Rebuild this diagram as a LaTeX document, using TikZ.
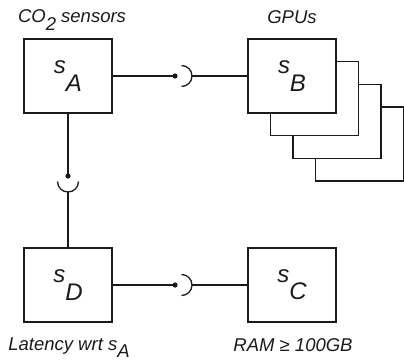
\documentclass[tikz,border=0pt]{standalone}
\usepackage{fontspec}
\setmainfont{Liberation Sans}
\usepackage{tikz}
\usetikzlibrary{positioning, calc}
\definecolor{wireink}{HTML}{1A1A1A}
\newcommand{\subdrop}[2][0.42em]{\raisebox{-#1}{#2}}
\newcommand{\ballsocket}[3]{%
  % #1 ball, #2 socket vertex, #3 direction of the vertex
  \fill[wireink] (#1) circle[radius=2.6pt];
  \draw[wire] (#2) arc[start angle=#3, end angle=#3+90, radius=10.5pt]
              (#2) arc[start angle=#3, end angle=#3-90, radius=10.5pt];
}
\tikzset{
  sitebox/.style={draw=wireink, line width=1.3pt, fill=white, inner sep=0pt,
    minimum width=88pt, minimum height=74pt,
    font=\fontsize{24}{24}\selectfont\itshape, text=wireink},
  caption/.style={font=\fontsize{18.5}{20}\selectfont\itshape, text=wireink, inner sep=0pt},
  wire/.style={draw=wireink, line width=1.3pt},
}

\begin{document}
\begin{tikzpicture}[x=1pt, y=-1pt]
  \useasboundingbox (0,0) rectangle (404,360);

  % ===== GPU stack behind s_B =====
  \foreach \k in {3,2,1}{
    \node[sitebox] (gpu\k) at ({292+\k*22.5},{76+\k*22.7}) {};
  }

  % ===== sites =====
  \node[sitebox] (sA) at (68,76) {\raisebox{-2pt}{s\subdrop[0.72em]{A}}};
  \node[sitebox] (sB) at (292,76) {\raisebox{-2pt}{s\subdrop[0.72em]{B}}};
  \node[sitebox] (sD) at (68,285) {\raisebox{-2pt}{s\subdrop[0.72em]{D}}};
  \node[sitebox] (sC) at (292,285) {\raisebox{-2pt}{s\subdrop[0.72em]{C}}};

  % ===== captions =====
  \node[caption, anchor=base] (capA) at (72,22.5) {CO\subdrop{2} sensors};
  \node[caption, anchor=base] (capB) at (292,23) {GPUs};
  \node[caption, anchor=base] (capD) at (69,350) {Latency wrt s\subdrop[0.38em]{A}};
  \node[caption, anchor=base] (capC) at (293,351) {RAM ≥ 100GB};

  % ===== ball and socket joints =====
  \coordinate (abBall) at (175,76);
  \coordinate (abSock) at (192,76);
  \coordinate (adBall) at (68,176);
  \coordinate (adSock) at (68,192);
  \coordinate (dcBall) at (175,285);
  \coordinate (dcSock) at (192,285);

  \draw[wire] (sA) -- (abBall);
  \draw[wire] (abSock) -- (sB);
  \ballsocket{abBall}{abSock}{0}

  \draw[wire] (sA) -- (adBall);
  \draw[wire] (adSock) -- (sD);
  \ballsocket{adBall}{adSock}{-90}

  \draw[wire] (sD) -- (dcBall);
  \draw[wire] (dcSock) -- (sC);
  \ballsocket{dcBall}{dcSock}{0}
\end{tikzpicture}
\end{document}
